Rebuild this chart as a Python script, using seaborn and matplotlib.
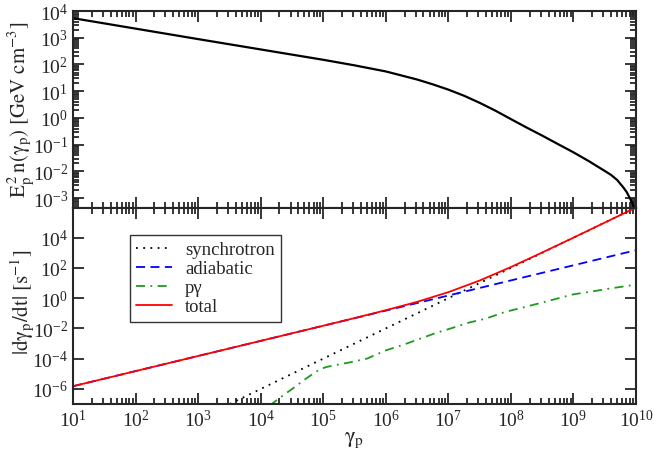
import numpy as np
import pandas as pd
import matplotlib
matplotlib.use("Agg")
import matplotlib.pyplot as plt
import matplotlib.ticker as mticker
import seaborn as sns

# top panel: proton energy spectrum
gamma_spec = [1e1, 1e3, 1e5, 3.16e5, 1e6, 3.16e6, 5.6e6, 1e7, 1.78e7, 3.16e7, 5.6e7, 1e8,
              1.78e8, 3.16e8, 5.6e8, 1e9, 1.78e9, 3.16e9, 4.0e9, 5.0e9, 6.3e9, 7.1e9,
              7.9e9, 8.9e9, 1e10]
e2n = [5.4e3, 8.9e2, 1.5e2, 93, 55, 27.5, 18.2, 11.5, 6.8, 3.7, 1.9, 0.91,
       0.44, 0.22, 0.107, 0.052, 0.024, 0.0105, 7.4e-3, 4.8e-3, 2.5e-3, 1.7e-3,
       1.05e-3, 6.0e-4, 2.5e-4]

# bottom panel: loss rates
gamma_sync = [3.2e3, 1e5, 1e7, 1e10]
sync = [1e-7, 1e-4, 1.0, 1e6]

gamma_adia = [1e1, 1e4, 1e7, 1e10]
adia = [1.5e-6, 1.5e-3, 1.5, 1.5e3]

gamma_pg = [1.4e4, 2.0e4, 3.2e4, 5.0e4, 7.1e4, 8.9e4, 1.12e5, 1.6e5, 2.5e5, 5.0e5, 1e6,
            2.0e6, 4.0e6, 6.3e6, 1e7, 2.2e7, 4.0e7, 7.9e7, 1.6e8, 3.2e8, 6.3e8, 1e9,
            2.0e9, 4.0e9, 1e10]
pg = [7.9e-8, 2.5e-7, 1e-6, 4.0e-6, 1.1e-5, 2.0e-5, 2.8e-5, 3.8e-5, 5.4e-5, 1e-4, 3.5e-4,
      8.9e-4, 2.5e-3, 5.0e-3, 8.9e-3, 0.025, 0.045, 0.12, 0.25, 0.52, 1.1, 1.8,
      2.8, 4.5, 7.9]

gamma_tot = [1e1, 1e2, 1e3, 1e4, 1e5, 3.16e5, 1e6, 3.16e6, 1e7, 3.16e7, 1e8,
             3.16e8, 1e9, 3.16e9, 1e10]
total = [1.5e-6, 1.5e-5, 1.5e-4, 1.5e-3, 1.5e-2, 0.048, 0.16, 0.57, 2.5, 14.7, 115,
         1.05e3, 1.01e4, 1.0e5, 1.0e6]

x_ticks = [1e1, 1e2, 1e3, 1e4, 1e5, 1e6, 1e7, 1e8, 1e9, 1e10]

sns.set_style("ticks")
plt.rcParams['font.family'] = ['Liberation Serif', 'DejaVu Serif']
plt.rcParams['mathtext.fontset'] = 'stix'
plt.rcParams['axes.unicode_minus'] = False

fig, (ax1, ax2) = plt.subplots(2, 1, figsize=(6.54, 4.6), dpi=100, sharex=True)
fig.subplots_adjust(left=73/654, right=636/654, top=1-12/460, bottom=1-405/460, hspace=0)

sns.lineplot(x=gamma_spec, y=e2n, ax=ax1, color='black', lw=1.6, estimator=None, sort=False)

sns.lineplot(x=gamma_sync, y=sync, ax=ax2, color='black', lw=1.3, linestyle=(0, (1, 3)),
             estimator=None, sort=False, label='synchrotron')
sns.lineplot(x=gamma_adia, y=adia, ax=ax2, color='#0000ff', lw=1.3, linestyle=(0, (5, 3)),
             estimator=None, sort=False, label='adiabatic')
sns.lineplot(x=gamma_pg, y=pg, ax=ax2, color='#1e9a1e', lw=1.3, linestyle=(0, (5, 3, 1, 3)),
             estimator=None, sort=False, label='pγ')
sns.lineplot(x=gamma_tot, y=total, ax=ax2, color='#ff0000', lw=1.3,
             estimator=None, sort=False, label='total')

for ax in (ax1, ax2):
    ax.set_xscale('log')
    ax.set_yscale('log')
    ax.set_xlim(1e1, 1e10)
    ax.xaxis.set_major_locator(mticker.FixedLocator(x_ticks))
    ax.xaxis.set_minor_locator(mticker.LogLocator(base=10, subs=np.arange(2, 10), numticks=20))
    ax.xaxis.set_minor_formatter(mticker.NullFormatter())
    ax.tick_params(which='both', direction='in', top=True, right=True, width=1.3, labelsize=14)
    ax.tick_params(which='major', length=8)
    ax.tick_params(which='minor', length=4)
    for s in ax.spines.values():
        s.set_linewidth(1.5)

ax1.set_ylim(4.5e-4, 1e4)
ax1.yaxis.set_major_locator(mticker.FixedLocator([1e-3, 1e-2, 1e-1, 1, 1e1, 1e2, 1e3, 1e4]))
ax1.yaxis.set_minor_locator(mticker.LogLocator(base=10, subs=np.arange(2, 10), numticks=20))
ax1.yaxis.set_minor_formatter(mticker.NullFormatter())
ax1.tick_params(axis='x', labelbottom=False)
ax1.set_ylabel(r'$\mathrm{E_p^{\,2}\,n(\gamma_p)\ [GeV\ cm^{-3}]}$', fontsize=15)
ax1.yaxis.set_label_coords(-0.066, 0.5)

ax2.set_ylim(1e-7, 1e6)
ax2.yaxis.set_major_locator(mticker.FixedLocator([1e-6, 1e-4, 1e-2, 1, 1e2, 1e4]))
ax2.yaxis.set_minor_locator(mticker.NullLocator())
ax2.set_ylabel(r'$\mathrm{|d\gamma_p/dt|\ [s^{-1}]}$', fontsize=15)
ax2.yaxis.set_label_coords(-0.066, 0.52)
ax2.set_xlabel(r'$\mathrm{\gamma_p}$', fontsize=16)
ax2.xaxis.set_label_coords(0.5, -0.13)

leg = ax2.legend(loc='upper left', bbox_to_anchor=(0.101, 0.862), borderaxespad=0,
                 fontsize=13.5, frameon=True, fancybox=False, handlelength=1.9,
                 labelspacing=0.1, borderpad=0.35, handletextpad=0.7)
leg.get_frame().set_edgecolor('black')
leg.get_frame().set_linewidth(1.0)

fig.savefig('out.png', dpi=100)
